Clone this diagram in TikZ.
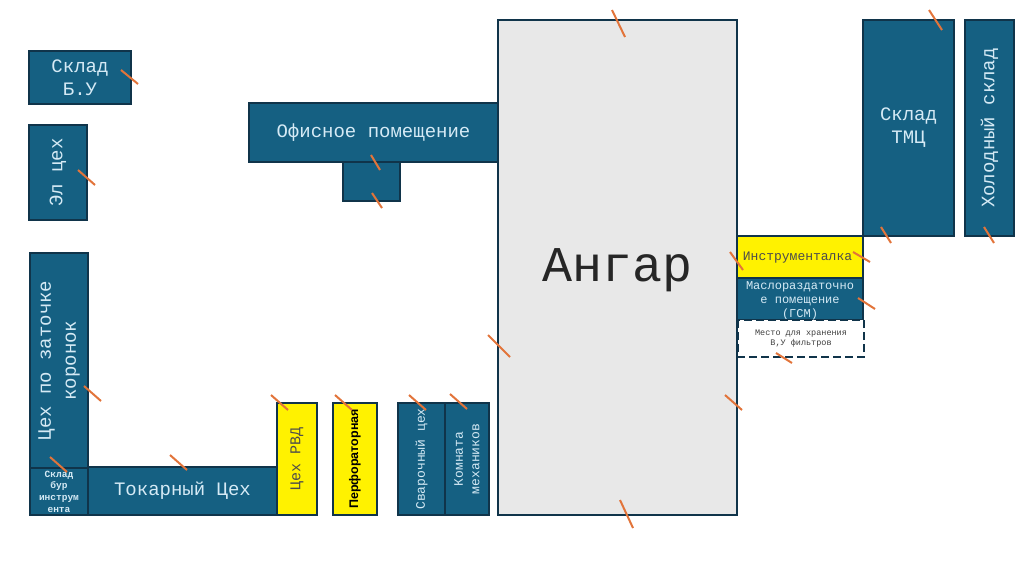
\documentclass[tikz,border=0pt]{standalone}
\usepackage{fontspec}
\setmainfont{Liberation Mono}
\newfontfamily\sansf{Liberation Sans}
\definecolor{bluebox}{HTML}{156082}
\definecolor{edge}{HTML}{10344A}
\definecolor{lt}{HTML}{D5EAF5}
\definecolor{tick}{HTML}{E2743A}
\definecolor{hangar}{HTML}{E8E8E8}
\newcommand{\fs}[2]{\fontsize{#1}{#2}\selectfont}
\tikzset{
  room/.style={draw=edge,line width=1.2pt,fill=bluebox},
  yroom/.style={draw=edge,line width=1.2pt,fill=yellow},
  ticks/.style={draw=tick,line width=2pt},
}
\newcommand{\roomnode}[8]{% name,x1,y1,x2,y2,font,content,style
  \path[#8] (#2,#3) rectangle (#4,#5);
  \node[inner sep=0pt,align=center,text=lt,font=#6] (#1) at ({(#2+#4)/2},{(#3+#5)/2}) {#7};
}
\begin{document}
\begin{tikzpicture}[x=1pt,y=-1pt]
\useasboundingbox (0,0) rectangle (1024,574);
\path[draw=edge,line width=1.2pt,fill=hangar] (498,20) rectangle (737,515);
\node[text=black!85,font=\fs{50}{60}] (hangar) at (617.5,270) {Ангар};
\roomnode{sbu}{29}{51}{131}{104}{\fs{19}{23}}{Склад\\Б.У}{room}
\roomnode{el}{29}{125}{87}{220}{\fs{19}{23}}{\rotatebox{90}{Эл цех}}{room}
\roomnode{zat}{30}{253}{88}{468}{\fs{19}{25}}{\rotatebox{90}{\parbox{180pt}{\centering Цех по заточке\\коронок}}}{room}
\roomnode{bur}{30}{468}{88}{515}{\fs{9.5}{11.7}\bfseries}{Склад\\бур\\инструм\\ента}{room}
\roomnode{tok}{88}{467}{277}{515}{\fs{19}{23}}{Токарный Цех}{room}
\path[yroom] (277,403) rectangle (317,515);
\node[text=black!70,font=\fs{15}{18}] (rvd) at (297,459) {\rotatebox{90}{Цех РВД}};
\path[yroom] (333,403) rectangle (377,515);
\node[text=black,font=\sansf\bfseries\fs{12.5}{15}] (perf) at (355,459) {\rotatebox{90}{Перфораторная}};
\roomnode{sv}{398}{403}{445}{515}{\fs{13}{16}}{\rotatebox{90}{Сварочный цех}}{room}
\roomnode{kom}{445}{403}{489}{515}{\fs{13}{16.5}}{\rotatebox{90}{\parbox{100pt}{\centering Комната\\механиков}}}{room}
\roomnode{off}{249}{103}{498}{162}{\fs{19}{23}}{Офисное помещение}{room}
\path[room] (343,162) rectangle (400,201);
\node[inner sep=0pt] (annex) at (371.5,181.5) {};
\roomnode{tmc}{863}{20}{954}{236}{\fs{19}{23}}{Склад\\ТМЦ}{room}
\roomnode{hol}{965}{20}{1014}{236}{\fs{19}{23}}{\rotatebox{90}{Холодный склад}}{room}
\path[yroom] (737,236) rectangle (863,278);
\node[text=black!70,font=\fs{13}{16}] (ins) at (797.5,257.5) {Инструменталка};
\path[room] (737,278) rectangle (863,320);
\node[inner sep=0pt,align=center,text=lt,font=\fs{12}{14}] (masl) at (800,300.5) {Маслораздаточно\\е помещение\\(ГСМ)};
\path[draw=edge,line width=1.2pt,fill=white,dash pattern=on 8pt off 4pt] (738,320) rectangle (864,357);
\node[text=black!75,align=center,font=\fs{8.5}{10.5}] (mesto) at (801,338.5) {Место для хранения\\В,У фильтров};
\foreach \a/\b/\c/\d in {121/70/138/84,78/170/95/185,84/386/101/401,50/457/67/472,170/455/187/470,
  271/395/288/410,335/395/352/410,409/395/426/410,450/394/467/409,612/10/625/37,620/500/633/528,
  488/335/510/357,725/395/742/410,730/252/743/270,853/252/870/262,858/298/875/309,776/353/792/363,
  371/155/380/170,372/193/382/208,929/10/942/30,881/227/891/243,984/227/994/243}
  \draw[ticks] (\a,\b) -- (\c,\d);
\end{tikzpicture}
\end{document}
